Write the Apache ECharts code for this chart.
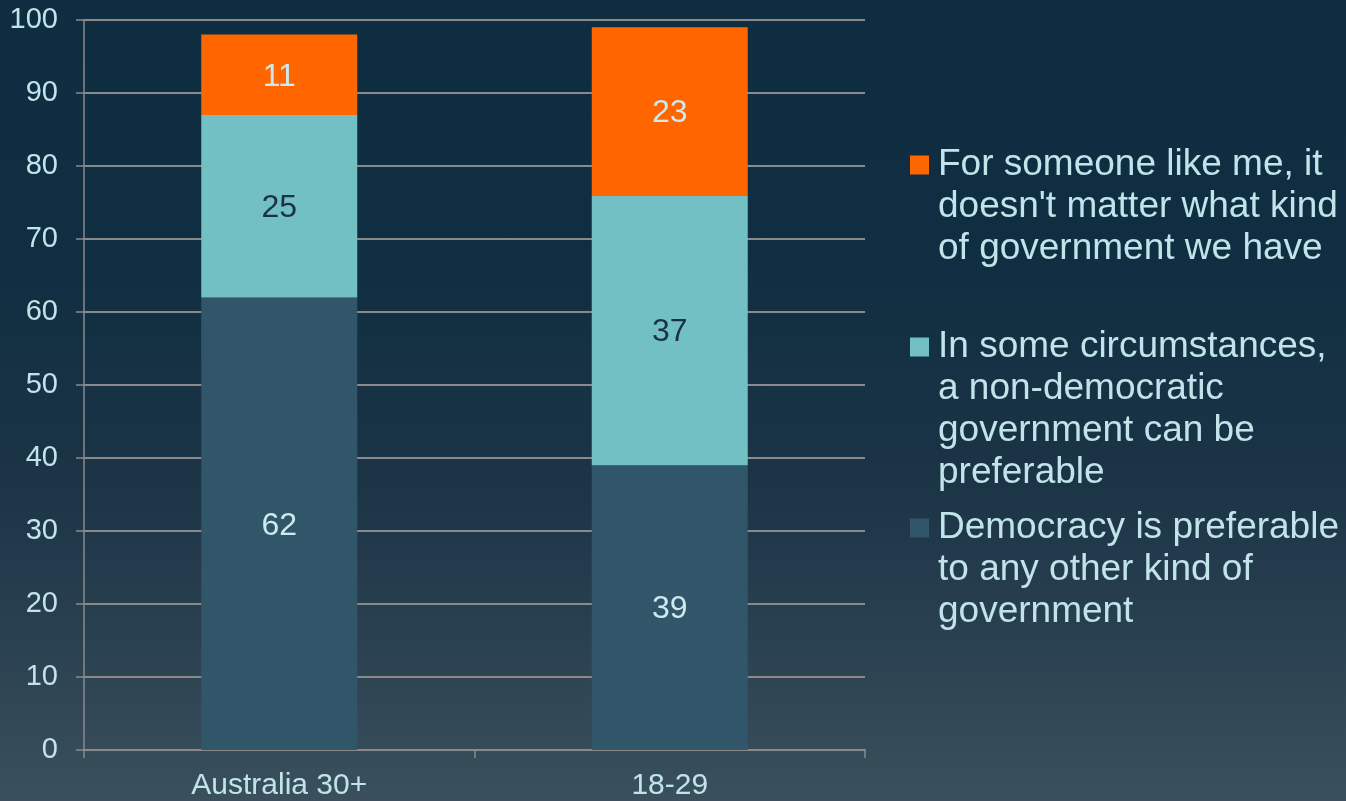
<!DOCTYPE html>
<html>
<head>
<meta charset="utf-8">
<script src="https://cdn.jsdelivr.net/npm/echarts@6/dist/echarts.min.js"></script>
<style>
html,body{margin:0;padding:0;width:1346px;height:801px;overflow:hidden;
background:linear-gradient(to bottom,#0e2d40 0%,#0f2e41 30%,#1b3446 60%,#2a4151 80%,#3b505c 100%);}
#chart{width:1346px;height:801px;}
</style>
</head>
<body>
<div id="chart"></div>
<script>
const categories = ['Australia 30+', '18-29'];
const democracyPreferable = [62, 39];
const nonDemocraticPreferable = [25, 37];
const doesntMatter = [11, 23];
const seriesNames = [
  "Democracy is preferable\nto any other kind of\ngovernment",
  "In some circumstances,\na non-democratic\ngovernment can be\npreferable",
  "For someone like me, it\ndoesn't matter what kind\nof government we have"
];
const yTicks = [0, 10, 20, 30, 40, 50, 60, 70, 80, 90, 100];

const textColor = '#c0e4e9';
const font = 'Liberation Sans, Arial, sans-serif';
const lh = 42;

function legendFor(name, top) {
  const lines = name.split('\n').length;
  return {
    show: true, data: [name], left: 910, top: top, padding: 0,
    orient: 'vertical', itemWidth: 19, itemHeight: 19, icon: 'rect',
    selectedMode: false,
    formatter: function (n) { return '\n'.repeat(lines - 1) + n; },
    textStyle: { color: textColor, fontSize: 37, fontFamily: font, lineHeight: lh,
      padding: [0, 0, 0, 4] }
  };
}

const chart = echarts.init(document.getElementById('chart'), null, { renderer: 'canvas' });
chart.setOption({
  animation: false,
  backgroundColor: 'transparent',
  grid: { left: 84, right: 481, top: 20, bottom: 47, containLabel: false },
  legend: [
    legendFor(seriesNames[2], 60),
    legendFor(seriesNames[1], 200),
    legendFor(seriesNames[0], 423)
  ],
  xAxis: {
    type: 'category', data: categories,
    axisLine: { show: true, lineStyle: { color: '#8a8a8a', width: 2 } },
    axisTick: { show: true, alignWithLabel: false, length: 8, lineStyle: { color: '#8a8a8a', width: 1.5 } },
    axisLabel: { color: textColor, fontSize: 30, fontFamily: font, margin: 21 }
  },
  yAxis: {
    type: 'value', min: yTicks[0], max: yTicks[yTicks.length - 1], interval: 10,
    axisLine: { show: true, lineStyle: { color: '#8a8a8a', width: 1.5 } },
    axisTick: { show: true, length: 8, lineStyle: { color: '#8a8a8a', width: 1.5 } },
    splitLine: { show: true, lineStyle: { color: '#8a8a8a', width: 2 } },
    axisLabel: { color: textColor, fontSize: 29, fontFamily: font, margin: 26 }
  },
  series: [
    {
      name: seriesNames[0], type: 'bar', stack: 'total', data: democracyPreferable,
      barWidth: 156,
      itemStyle: { color: '#325669' },
      label: { show: true, position: 'inside', offset: [0, 2], color: '#cdeaee', fontSize: 32, fontFamily: font }
    },
    {
      name: seriesNames[1], type: 'bar', stack: 'total', data: nonDemocraticPreferable,
      barWidth: 156,
      itemStyle: { color: '#72bfc4' },
      label: { show: true, position: 'inside', offset: [0, 2], color: '#1b3147', fontSize: 32, fontFamily: font }
    },
    {
      name: seriesNames[2], type: 'bar', stack: 'total', data: doesntMatter,
      barWidth: 156,
      itemStyle: { color: '#ff6600' },
      label: { show: true, position: 'inside', offset: [0, 2], color: '#cdeaee', fontSize: 32, fontFamily: font }
    }
  ]
});
</script>
</body>
</html>
